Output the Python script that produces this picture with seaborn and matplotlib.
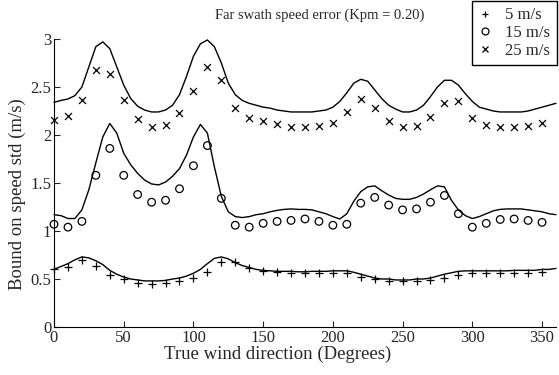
import numpy as np
import pandas as pd
import matplotlib
matplotlib.use("Agg")
import matplotlib.pyplot as plt
from matplotlib.lines import Line2D
import seaborn as sns

# ---- data ----
marker_dirs = list(range(0, 360, 10))
pts_5 = [0.60, 0.63, 0.70, 0.635, 0.54, 0.50, 0.46, 0.45, 0.455, 0.48,
         0.51, 0.57, 0.68, 0.68, 0.61, 0.58, 0.57, 0.56, 0.56, 0.56,
         0.56, 0.56, 0.52, 0.50, 0.48, 0.475, 0.48, 0.49, 0.51, 0.54,
         0.56, 0.56, 0.56, 0.56, 0.56, 0.57]
pts_15 = [1.07, 1.04, 1.10, 1.58, 1.86, 1.58, 1.38, 1.30, 1.32, 1.44,
          1.68, 1.89, 1.34, 1.06, 1.04, 1.08, 1.10, 1.11, 1.125, 1.10,
          1.06, 1.07, 1.29, 1.35, 1.27, 1.22, 1.23, 1.30, 1.37, 1.18,
          1.04, 1.08, 1.12, 1.125, 1.11, 1.09]
pts_25 = [2.16, 2.20, 2.36, 2.68, 2.64, 2.36, 2.17, 2.08, 2.10, 2.23,
          2.46, 2.71, 2.57, 2.28, 2.18, 2.15, 2.11, 2.08, 2.08, 2.09,
          2.12, 2.24, 2.38, 2.28, 2.15, 2.08, 2.09, 2.19, 2.33, 2.35,
          2.18, 2.10, 2.08, 2.08, 2.09, 2.12]

line_dirs = list(range(0, 365, 5))
line_5 = [0.60, 0.63, 0.66, 0.70, 0.73, 0.72, 0.69, 0.65, 0.59, 0.55,
          0.52, 0.50, 0.49, 0.48, 0.48, 0.48, 0.485, 0.50, 0.51, 0.53,
          0.56, 0.60, 0.66, 0.715, 0.73, 0.71, 0.67, 0.64, 0.62, 0.60,
          0.59, 0.585, 0.58, 0.58, 0.58, 0.575, 0.575, 0.58, 0.58, 0.58,
          0.585, 0.585, 0.585, 0.57, 0.55, 0.53, 0.51, 0.50, 0.50, 0.49,
          0.49, 0.49, 0.50, 0.50, 0.51, 0.53, 0.55, 0.565, 0.58, 0.585,
          0.585, 0.585, 0.585, 0.585, 0.585, 0.585, 0.59, 0.59, 0.59, 0.59,
          0.60, 0.60, 0.61]
line_15 = [1.17, 1.16, 1.13, 1.13, 1.22, 1.43, 1.71, 1.98, 2.12, 2.02,
           1.81, 1.69, 1.60, 1.53, 1.49, 1.48, 1.51, 1.57, 1.65, 1.79,
           1.98, 2.11, 2.02, 1.67, 1.36, 1.20, 1.15, 1.14, 1.15, 1.17,
           1.18, 1.20, 1.215, 1.225, 1.23, 1.225, 1.225, 1.22, 1.20, 1.18,
           1.15, 1.125, 1.18, 1.31, 1.41, 1.46, 1.47, 1.42, 1.375, 1.34,
           1.33, 1.33, 1.35, 1.385, 1.43, 1.47, 1.46, 1.32, 1.22, 1.16,
           1.13, 1.15, 1.18, 1.21, 1.225, 1.23, 1.23, 1.23, 1.22, 1.21,
           1.20, 1.18, 1.17]
line_25 = [2.34, 2.36, 2.375, 2.41, 2.50, 2.71, 2.92, 2.97, 2.90, 2.71,
           2.52, 2.38, 2.30, 2.26, 2.24, 2.24, 2.26, 2.31, 2.42, 2.61,
           2.82, 2.95, 2.99, 2.92, 2.75, 2.54, 2.42, 2.36, 2.33, 2.31,
           2.29, 2.28, 2.26, 2.25, 2.24, 2.24, 2.24, 2.24, 2.25, 2.26,
           2.29, 2.35, 2.44, 2.54, 2.58, 2.56, 2.47, 2.38, 2.31, 2.27,
           2.24, 2.24, 2.26, 2.31, 2.40, 2.50, 2.57, 2.57, 2.52, 2.43,
           2.35, 2.29, 2.27, 2.25, 2.24, 2.24, 2.24, 2.24, 2.25, 2.27,
           2.29, 2.31, 2.33]

labels = ["5 m/s", "15 m/s", "25 m/s"]
x_ticks = [0, 50, 100, 150, 200, 250, 300, 350]
y_ticks = [0, 0.5, 1, 1.5, 2, 2.5, 3]
y_ticklabels = ["0", "0.5", "1", "1.5", "2", "2.5", "3"]

# ---- style ----
sns.set_style("white")
plt.rcParams["font.family"] = ["Liberation Serif", "DejaVu Serif"]
FS = 12

fig = plt.figure(figsize=(5.59, 3.75), dpi=100)
ax = fig.add_axes([0.0966, 0.128, 0.898, 0.768])

lines_df = pd.DataFrame({"dir": line_dirs, "5": line_5, "15": line_15, "25": line_25})
pts_df = pd.DataFrame({"dir": marker_dirs, "5": pts_5, "15": pts_15, "25": pts_25})

for col in ["5", "15", "25"]:
    sns.lineplot(data=lines_df, x="dir", y=col, ax=ax, color="black",
                 linewidth=1.0, estimator=None, sort=False, clip_on=False)

sns.scatterplot(data=pts_df, x="dir", y="5", ax=ax, marker="+", color="black",
                s=30, linewidth=0.9, clip_on=False)
sns.scatterplot(data=pts_df, x="dir", y="15", ax=ax, marker="o", facecolor="none",
                edgecolor="black", s=30, linewidth=0.9, clip_on=False)
sns.scatterplot(data=pts_df, x="dir", y="25", ax=ax, marker="x", color="black",
                s=25, linewidth=0.9, clip_on=False)

ax.set_xlim(0, 360)
ax.set_ylim(0, 3)
ax.set_xticks(x_ticks)
ax.set_yticks(y_ticks)
ax.set_yticklabels(y_ticklabels)
ax.tick_params(direction="in", length=4, width=0.8, labelsize=FS, pad=2,
               bottom=True, left=True, top=False, right=False)
for s in ["top", "right"]:
    ax.spines[s].set_visible(False)
for s in ["left", "bottom"]:
    ax.spines[s].set_color("black")
    ax.spines[s].set_linewidth(0.8)

ax.set_xlabel("True wind direction (Degrees)", fontsize=13.5, labelpad=0)
ax.xaxis.set_label_coords(0.445, -0.065)
ax.set_ylabel("Bound on speed std (m/s)", fontsize=13.5, labelpad=2)
ax.yaxis.set_label_coords(-0.056, 0.46)
fig.text(0.572, 0.958, "Far swath speed error (Kpm = 0.20)", fontsize=10.5,
         ha="center", va="center")

handles = [
    Line2D([], [], linestyle="none", marker="+", color="black", markersize=5, markeredgewidth=0.9),
    Line2D([], [], linestyle="none", marker="o", markerfacecolor="none", markeredgecolor="black",
           markersize=5, markeredgewidth=0.9),
    Line2D([], [], linestyle="none", marker="x", color="black", markersize=4.5, markeredgewidth=0.9),
]
leg = ax.legend(handles, labels, loc="upper right", bbox_to_anchor=(0.996, 0.998),
                bbox_transform=fig.transFigure, fontsize=FS, frameon=True, fancybox=False,
                framealpha=1, edgecolor="black", borderpad=0.4, labelspacing=0.1,
                handlelength=0.8, handletextpad=0.8, borderaxespad=0)
leg.get_frame().set_linewidth(1.0)

fig.savefig("out.png", dpi=100)
